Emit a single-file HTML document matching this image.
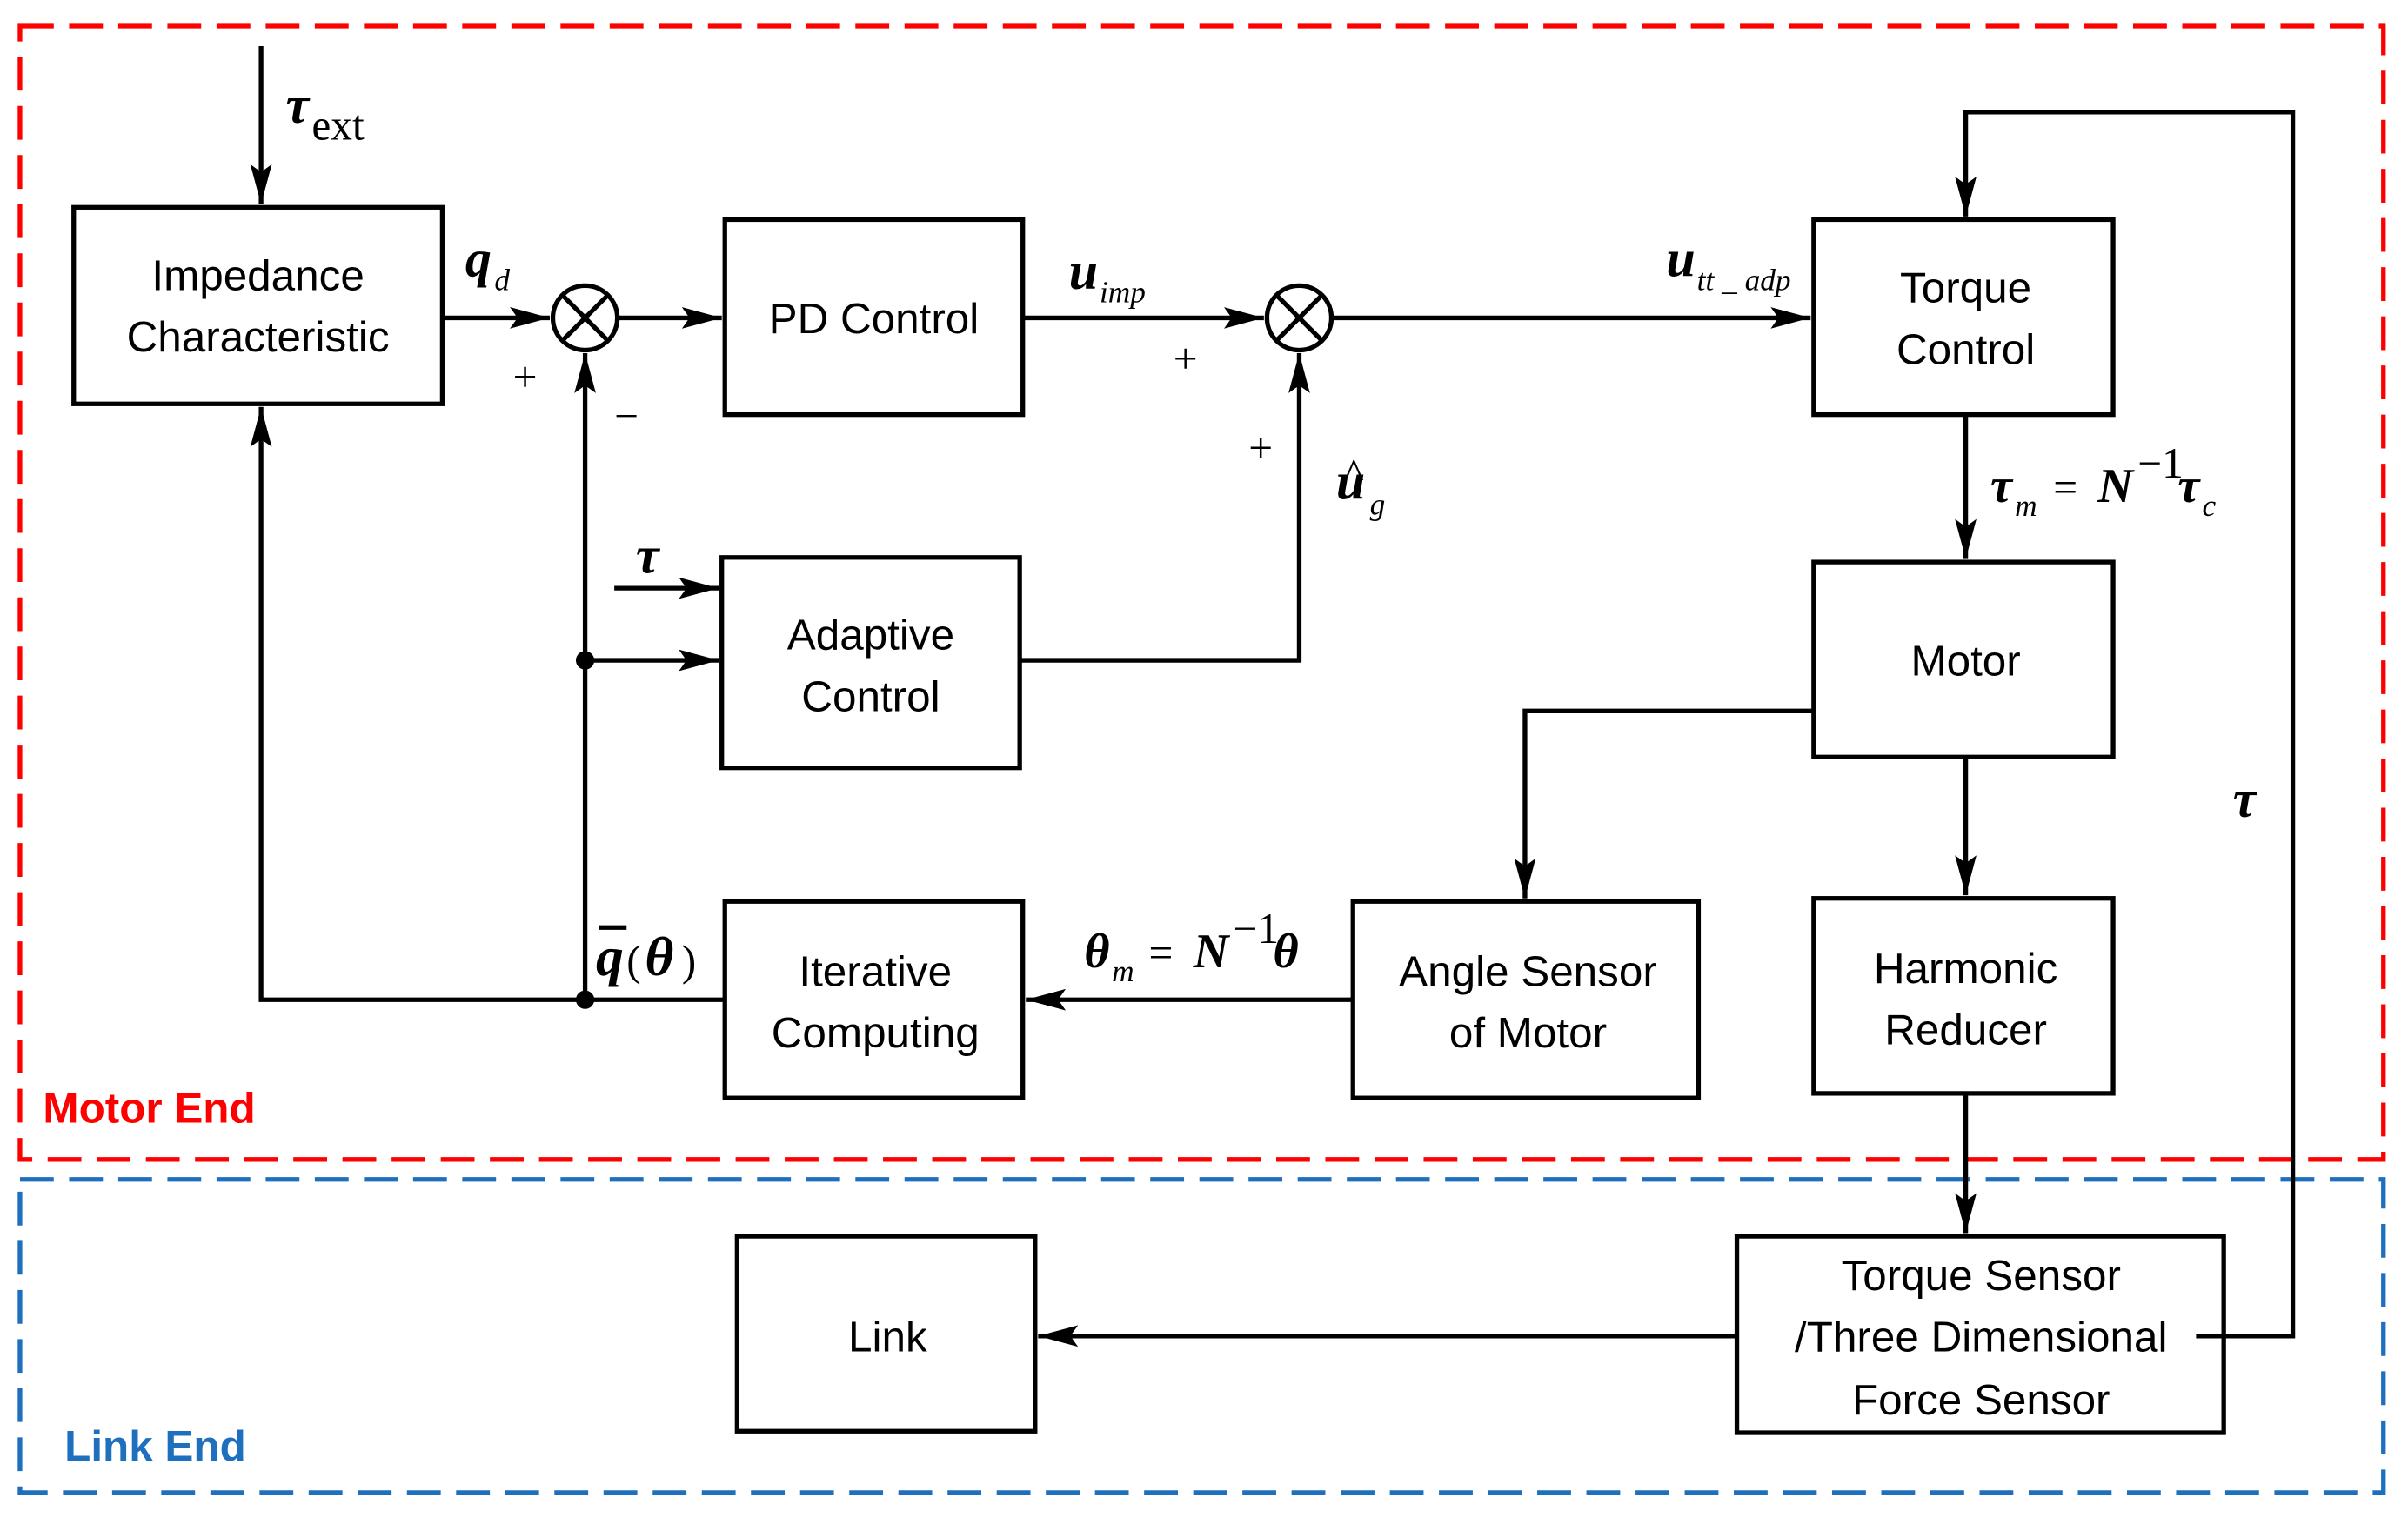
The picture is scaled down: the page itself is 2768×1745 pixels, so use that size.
<!DOCTYPE html>
<html><head><meta charset="utf-8"><style>
html,body{margin:0;padding:0;background:#fff;}
svg{display:block;}
.b{fill:none;stroke:#000;stroke-width:3;}
.l{fill:none;stroke:#000;stroke-width:3;}
.t{font-family:"Liberation Sans",sans-serif;font-size:28px;fill:#000;text-anchor:middle;}
.m{font-family:"Liberation Serif",serif;font-style:italic;font-weight:bold;fill:#000;}
.s{font-family:"Liberation Serif",serif;font-style:italic;fill:#000;}
.p{font-family:"Liberation Serif",serif;font-size:28px;fill:#000;}
</style></head><body>
<svg width="2768" height="1745" viewBox="0 0 1568 988.5" preserveAspectRatio="none" xmlns="http://www.w3.org/2000/svg">
<defs>
<marker id="A" markerWidth="26" markerHeight="14" refX="26" refY="7" orient="auto" markerUnits="userSpaceOnUse"><path d="M0,0L26,7L0,14L5,7z" fill="#000"/></marker></defs>
<rect x="13" y="17" width="1539" height="738" fill="none" stroke="#f00" stroke-width="3" stroke-dasharray="22,10"/>
<rect x="13" y="768" width="1539" height="204" fill="none" stroke="#1f6fbf" stroke-width="3" stroke-dasharray="22,10"/>
<text x="28" y="731" font-family="Liberation Sans,sans-serif" font-weight="bold" font-size="28" fill="#f00">Motor End</text>
<text x="42" y="951" font-family="Liberation Sans,sans-serif" font-weight="bold" font-size="28" fill="#1f6fbf">Link End</text>
<rect class="b" x="48" y="135" width="240" height="128"/>
<text class="t" x="168" y="189">Impedance</text><text class="t" x="168" y="229">Characteristic</text>
<rect class="b" x="472" y="143" width="194" height="127"/><text class="t" x="569" y="217">PD Control</text>
<rect class="b" x="1181" y="143" width="195" height="127"/><text class="t" x="1280" y="197">Torque</text><text class="t" x="1280" y="237">Control</text>
<rect class="b" x="470" y="363" width="194" height="137"/><text class="t" x="567" y="423">Adaptive</text><text class="t" x="567" y="463">Control</text>
<rect class="b" x="1181" y="366" width="195" height="127"/><text class="t" x="1280" y="440">Motor</text>
<rect class="b" x="1181" y="585" width="195" height="127"/><text class="t" x="1280" y="640">Harmonic</text><text class="t" x="1280" y="680">Reducer</text>
<rect class="b" x="881" y="587" width="225" height="128"/><text class="t" x="995" y="642">Angle Sensor</text><text class="t" x="995" y="682">of Motor</text>
<rect class="b" x="472" y="587" width="194" height="128"/><text class="t" x="570" y="642">Iterative</text><text class="t" x="570" y="682">Computing</text>
<rect class="b" x="480" y="805" width="194" height="127"/><text class="t" x="578" y="880">Link</text>
<rect class="b" x="1131" y="805" width="317" height="128"/><text class="t" x="1290" y="840">Torque Sensor</text><text class="t" x="1290" y="880">/Three Dimensional</text><text class="t" x="1290" y="921">Force Sensor</text>
<g class="l">
<circle cx="381" cy="207" r="21"/><path d="M366,192L396,222M396,192L366,222"/>
<circle cx="846" cy="207" r="21"/><path d="M831,192L861,222M861,192L831,222"/>
<path d="M170,30V133" marker-end="url(#A)"/>
<path d="M288,207H358" marker-end="url(#A)"/>
<path d="M402,207H470" marker-end="url(#A)"/>
<path d="M666,207H823" marker-end="url(#A)"/>
<path d="M867,207H1179" marker-end="url(#A)"/>
<path d="M381,651V230" marker-end="url(#A)"/>
<path d="M381,430H468" marker-end="url(#A)"/>
<path d="M400,383H468" marker-end="url(#A)"/>
<path d="M664,430H846V230" marker-end="url(#A)"/>
<path d="M472,651H170V265" marker-end="url(#A)"/>
<path d="M881,651H668" marker-end="url(#A)"/>
<path d="M1181,463H993V585" marker-end="url(#A)"/>
<path d="M1280,493V583" marker-end="url(#A)"/>
<path d="M1280,270V364" marker-end="url(#A)"/>
<path d="M1280,712V803" marker-end="url(#A)"/>
<path d="M1131,870H676" marker-end="url(#A)"/>
<path d="M1430,870H1493V73H1280V141" marker-end="url(#A)"/>
</g>
<circle cx="381" cy="430" r="6"/><circle cx="381" cy="651" r="6"/>
<text class="m" x="186" y="80" font-size="34">τ</text><text class="p" x="203" y="91" font-size="20">ext</text>
<text class="m" x="303" y="180" font-size="34">q</text><text class="s" x="322" y="189" font-size="20">d</text>
<text class="p" x="334" y="255">+</text><text class="p" x="400" y="280">−</text>
<text class="m" x="696" y="188" font-size="34">u</text><text class="s" x="716" y="197" font-size="20">imp</text>
<text class="p" x="764" y="243">+</text><text class="p" x="813" y="301">+</text>
<text class="m" x="1085" y="180" font-size="34">u</text><text class="s" x="1105" y="189" font-size="20">tt _ adp</text>
<text class="m" x="870" y="325" font-size="34">u</text><text class="p" x="875" y="318" font-size="24">^</text><text class="s" x="892" y="335" font-size="20">g</text>
<text class="m" x="414" y="373" font-size="34">τ</text>
<text class="m" x="1296" y="327" font-size="32">τ</text><text class="s" x="1312" y="336" font-size="20">m</text>
<text class="p" x="1337" y="327" font-size="30">=</text><text class="m" x="1366" y="327" font-size="32">N</text><text class="p" x="1392" y="311" font-size="18">−1</text><text class="m" x="1418" y="327" font-size="32">τ</text><text class="s" x="1434" y="336" font-size="20">c</text>
<text class="m" x="1454" y="532" font-size="34">τ</text>
<text class="m" x="388" y="635" font-size="36">q</text><path d="M390,604H408" stroke="#000" stroke-width="3"/><text class="p" x="408" y="635" font-size="36">(</text><text class="m" x="420" y="635" font-size="36">θ</text><text class="p" x="444" y="635" font-size="36">)</text>
<text class="m" x="706" y="630" font-size="32">θ</text><text class="s" x="724" y="639" font-size="20">m</text>
<text class="p" x="748" y="630" font-size="30">=</text><text class="m" x="777" y="630" font-size="32">N</text><text class="p" x="803" y="614" font-size="18">−1</text><text class="m" x="829" y="630" font-size="32">θ</text>
</svg>
</body></html>
